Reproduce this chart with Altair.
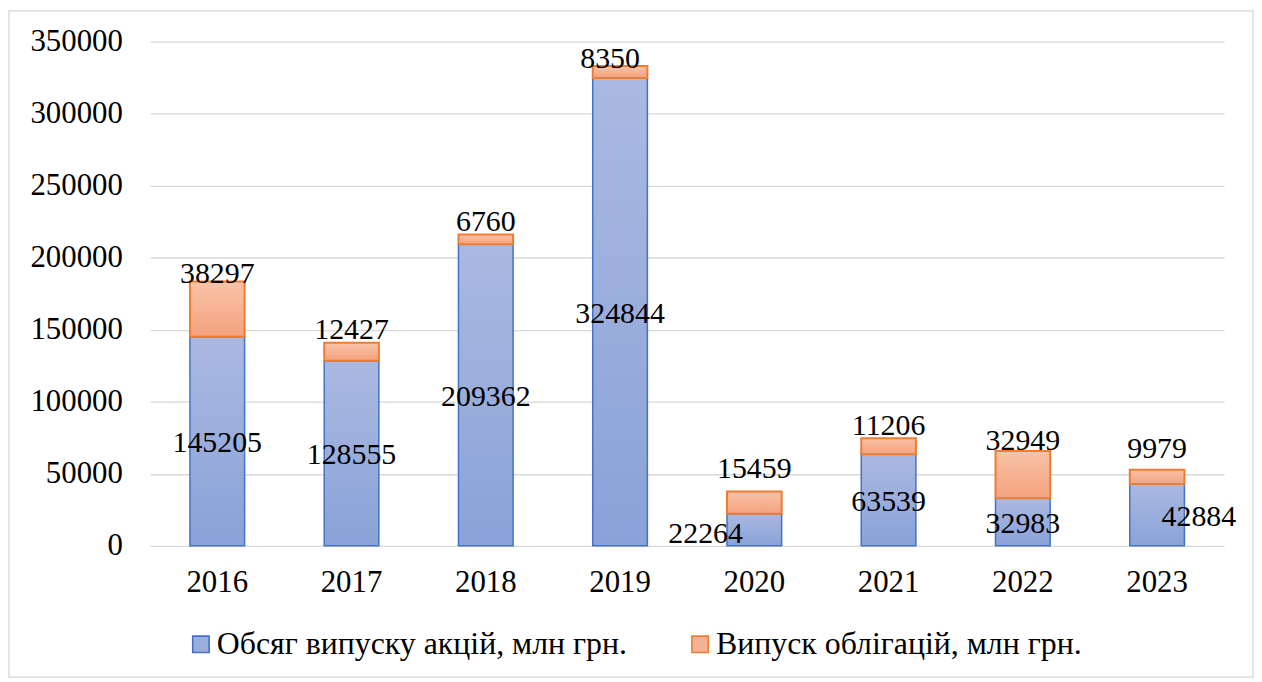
import altair as alt
import pandas as pd

years = ["2016", "2017", "2018", "2019", "2020", "2021", "2022", "2023"]
shares = [145205, 128555, 209362, 324844, 22264, 63539, 32983, 42884]
bonds = [38297, 12427, 6760, 8350, 15459, 11206, 32949, 9979]
series = ["Обсяг випуску акцій, млн грн.", "Випуск облігацій, млн грн."]
y_ticks = [0, 50000, 100000, 150000, 200000, 250000, 300000, 350000]

df = pd.DataFrame({"year": years, "shares": shares, "bonds": bonds})
df["total"] = df["shares"] + df["bonds"]
df["mid"] = df["shares"] / 2

FONT = "Liberation Serif"
FS = 30
W, H = 1080, 507

blue_grad = {"gradient": "linear", "x1": 0, "y1": 0, "x2": 0, "y2": 1,
             "stops": [{"offset": 0, "color": "#AAB9E1"}, {"offset": 1, "color": "#8AA2D8"}]}
orange_grad = {"gradient": "linear", "x1": 0, "y1": 0, "x2": 0, "y2": 1,
               "stops": [{"offset": 0, "color": "#F8C3A8"}, {"offset": 1, "color": "#F4A27E"}]}

x_enc = alt.X("year:N", sort=years,
              scale=alt.Scale(paddingInner=0.593, paddingOuter=0.296),
              axis=alt.Axis(title=None, labelAngle=0, domain=False, ticks=False,
                            labelPadding=22, grid=False, labelFont=FONT, labelFontSize=31,
                            labelColor="black"))
y_scale = alt.Scale(domain=[0, 350000], nice=False, zero=True)
y_axis = alt.Axis(title=None, values=y_ticks, format="d", domain=False, ticks=False,
                  labelPadding=28, grid=True, gridColor="#D9D9D9", gridWidth=1.3,
                  labelFont=FONT, labelFontSize=31, labelColor="black")

base = alt.Chart(df)

blue_bars = base.mark_bar(fill=blue_grad, stroke="#4472C4", strokeWidth=1.5).encode(
    x=x_enc,
    y=alt.Y("shares:Q", scale=y_scale, axis=y_axis),
)
orange_bars = base.mark_bar(fill=orange_grad, stroke="#ED7D31", strokeWidth=2).encode(
    x=alt.X("year:N", sort=years),
    y=alt.Y("shares:Q"),
    y2="total:Q",
)

# label nudges (pixels) where the reference labels were moved by hand
blue_nudge = {"2020": (-49, 4), "2023": (42, 2)}
orange_nudge = {"2016": (0, 1), "2017": (0, -4), "2018": (0, -4), "2019": (-10, 2),
                "2020": (0, -14), "2021": (0, -3), "2022": (0, -1), "2023": (0, -12)}

layers = [blue_bars, orange_bars]
for yr in years:
    bdx, bdy = blue_nudge.get(yr, (0, 2))
    layers.append(
        base.transform_filter(alt.datum.year == yr).mark_text(
            font=FONT, fontSize=FS, color="black", baseline="middle", dx=bdx, dy=bdy
        ).encode(x=alt.X("year:N", sort=years), y=alt.Y("mid:Q"), text=alt.Text("shares:Q", format="d"))
    )
    odx, ody = orange_nudge.get(yr, (0, -3))
    layers.append(
        base.transform_filter(alt.datum.year == yr).mark_text(
            font=FONT, fontSize=FS, color="black", baseline="alphabetic", dx=odx, dy=ody
        ).encode(x=alt.X("year:N", sort=years), y=alt.Y("total:Q"), text=alt.Text("bonds:Q", format="d"))
    )

legend_df = pd.DataFrame({"s": series})
legend_layer = alt.Chart(legend_df).mark_square(opacity=0, size=10).encode(
    fill=alt.Fill("s:N", scale=alt.Scale(domain=series, range=["#9AAEDD", "#F6B292"]),
                  legend=alt.Legend(title=None, orient="none", legendX=35, legendY=590,
                                    direction="horizontal", symbolType="square", symbolSize=272,
                                    symbolStrokeWidth=1.6, symbolOpacity=1,
                                    labelFont=FONT, labelFontSize=32, labelLimit=800,
                                    labelOffset=0, columnPadding=57, labelColor="black")),
    stroke=alt.Stroke("s:N", scale=alt.Scale(domain=series, range=["#4472C4", "#ED7D31"]),
                      legend=None),
)
layers.append(legend_layer)

frame = alt.Chart(alt.Data(values=[{"a": 1}])).mark_rect(
    fill="transparent", stroke="#D9D9D9", strokeWidth=1.3
).encode(x=alt.value(-142), x2=alt.value(1109), y=alt.value(-31), y2=alt.value(639))
layers.insert(0, frame)

chart = alt.layer(*layers).properties(
    width=W, height=H, padding=0, background="white"
).configure_view(stroke=None)

chart.save("out.html", embed_options={"renderer": "svg", "actions": False})
